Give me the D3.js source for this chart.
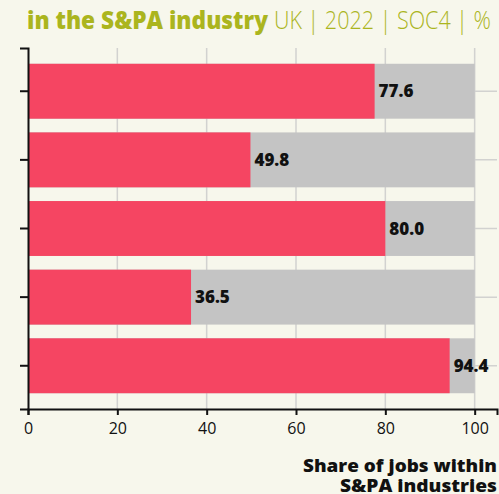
<!DOCTYPE html>
<html>
<head>
<meta charset="utf-8">
<script src="https://cdn.jsdelivr.net/npm/d3@7"></script>
<style>
  body { margin: 0; background: #f7f7ec; }
  svg { display: block; font-family: "Open Sans", "DejaVu Sans", sans-serif; }
</style>
</head>
<body>
<svg id="chart" width="499" height="494"></svg>
<script>
// chart data
var categories = ["Occupation 1", "Occupation 2", "Occupation 3", "Occupation 4", "Occupation 5"]
var shares = [77.6, 49.8, 80.0, 36.5, 94.4]
var xTicks = [0, 20, 40, 60, 80, 100]

var rows = categories.map(function (c, i) { return {cat: c, val: shares[i]} })

const svg = d3.select("#chart"),
    width = +svg.attr("width"),
    height = +svg.attr("height"),
    margin = {top: 48, right: 2, bottom: 85, left: 28};

svg.append("rect").attr("width", width).attr("height", height).attr("fill", "#f7f7ec");

// Scales
const x = d3.scaleLinear()
    .domain([0, 105])
    .range([margin.left, width - margin.right]);

const y = d3.scaleBand()
    .domain(categories)
    .range([margin.top, height - margin.bottom])
    .paddingInner(0.2)
    .paddingOuter(0.23);

// gridlines
svg.append("g").selectAll("line.vg")
    .data(xTicks.slice(1))
    .join("line")
    .attr("x1", d => x(d)).attr("x2", d => x(d))
    .attr("y1", margin.top).attr("y2", height - margin.bottom)
    .attr("stroke", "#d2d2d0").attr("stroke-width", 1.5);

svg.append("g").selectAll("line.hg")
    .data(categories)
    .join("line")
    .attr("x1", margin.left).attr("x2", width - margin.right)
    .attr("y1", d => y(d) + y.bandwidth() / 2).attr("y2", d => y(d) + y.bandwidth() / 2)
    .attr("stroke", "#d2d2d0").attr("stroke-width", 1.5);

// background (100%) bars
svg.append("g").selectAll("rect")
    .data(rows)
    .join("rect")
    .attr("x", x(0))
    .attr("y", d => y(d.cat))
    .attr("width", x(100) - x(0))
    .attr("height", y.bandwidth())
    .attr("fill", "#c4c4c4");

// value bars
svg.append("g").selectAll("rect")
    .data(rows)
    .join("rect")
    .attr("x", x(0))
    .attr("y", d => y(d.cat))
    .attr("width", d => x(d.val) - x(0))
    .attr("height", y.bandwidth())
    .attr("fill", "#f54562");

// value labels
svg.append("g").selectAll("text")
    .data(rows)
    .join("text")
    .attr("x", d => x(d.val) + 4)
    .attr("y", d => y(d.cat) + y.bandwidth() / 2)
    .attr("dy", "0.36em")
    .attr("font-size", 17)
    .attr("font-weight", 800)
    .attr("fill", "#111")
    .text(d => d.val.toFixed(1));

// axes
const xAxis = svg.append("g")
    .attr("transform", "translate(0," + (height - margin.bottom) + ")")
    .call(d3.axisBottom(x).tickValues(xTicks).tickSizeOuter(0).tickSize(6).tickPadding(8));
xAxis.select(".domain").attr("stroke", "#111").attr("stroke-width", 2);
xAxis.selectAll(".tick line").attr("stroke", "#111").attr("stroke-width", 2);
xAxis.selectAll("text").attr("font-size", 16).attr("fill", "#111")
    .attr("font-family", "'Open Sans', sans-serif");

const yAxis = svg.append("g")
    .attr("transform", "translate(" + margin.left + ",0)")
    .call(d3.axisLeft(y).tickSizeOuter(0).tickSize(8).tickFormat(""));
yAxis.select(".domain").attr("stroke", "#111").attr("stroke-width", 2);
yAxis.selectAll(".tick line").attr("stroke", "#111").attr("stroke-width", 2);

// title
const title = svg.append("text")
    .attr("x", 27).attr("y", 29)
    .attr("font-size", 25)
    .attr("fill", "#abb51e");
title.append("tspan").attr("font-weight", 800).attr("textLength", 241).attr("lengthAdjust", "spacingAndGlyphs")
    .text("in the S&PA industry");
title.append("tspan").attr("x", 274).attr("font-weight", 300).attr("textLength", 217).attr("lengthAdjust", "spacingAndGlyphs")
    .text("UK | 2022 | SOC4 | %");

// x-axis title
svg.append("text")
    .attr("x", 497).attr("y", 472)
    .attr("text-anchor", "end")
    .attr("font-size", 18).attr("font-weight", 800).attr("fill", "#111")
    .attr("textLength", 194).attr("lengthAdjust", "spacingAndGlyphs")
    .text("Share of jobs within");
svg.append("text")
    .attr("x", 497).attr("y", 492)
    .attr("text-anchor", "end")
    .attr("font-size", 18).attr("font-weight", 800).attr("fill", "#111")
    .attr("textLength", 157).attr("lengthAdjust", "spacingAndGlyphs")
    .text("S&PA industries");
</script>
</body>
</html>
